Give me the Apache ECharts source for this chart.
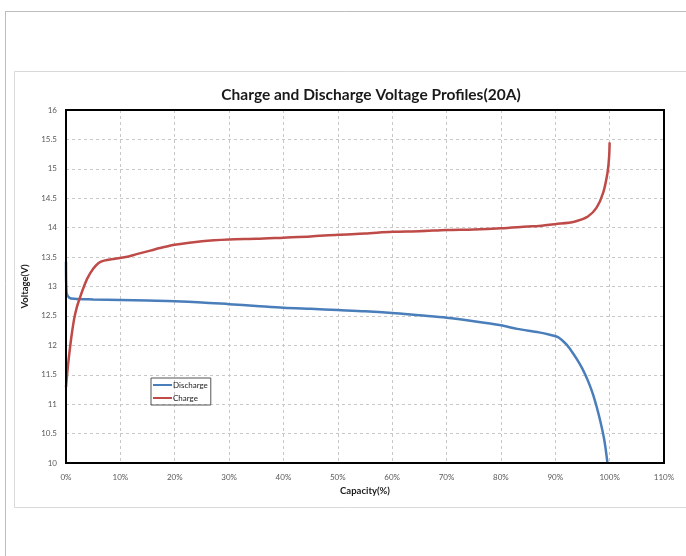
<!DOCTYPE html>
<html>
<head>
<meta charset="utf-8">
<script src="https://cdn.jsdelivr.net/npm/echarts@6/dist/echarts.min.js"></script>
<style>
  html, body { margin: 0; padding: 0; background: #fff; }
  #chart { width: 686px; height: 556px; }
</style>
</head>
<body>
<div id="chart"></div>
<script>
// capacity (%) , voltage (V) pairs
const dischargeCap = [0, 0.1, 0.6, 1.5, 5, 10, 15, 20, 25, 30, 35, 40, 45, 50, 55, 60, 65, 70, 75, 80, 83, 87, 89, 90.5, 92, 93, 94, 95, 96, 97, 98, 99, 99.6];
const dischargeV = [13.42, 12.9, 12.81, 12.79, 12.78, 12.77, 12.76, 12.75, 12.73, 12.7, 12.67, 12.64, 12.62, 12.6, 12.58, 12.55, 12.51, 12.47, 12.41, 12.34, 12.28, 12.22, 12.18, 12.14, 12.02, 11.9, 11.76, 11.6, 11.4, 11.15, 10.82, 10.4, 10.0];

const chargeCap = [0, 0.3, 0.6, 1, 1.5, 2, 2.6, 3.3, 4, 5, 6, 7, 9, 11, 13, 15.5, 18, 20, 25, 30, 35, 40, 45, 50, 55, 60, 65, 70, 75, 80, 85, 87, 90, 93.5, 96, 97.6, 98.8, 99.6, 99.9, 100];
const chargeV = [11.29, 11.6, 11.85, 12.15, 12.45, 12.65, 12.82, 13.0, 13.15, 13.3, 13.4, 13.44, 13.47, 13.5, 13.55, 13.61, 13.67, 13.71, 13.77, 13.8, 13.81, 13.83, 13.85, 13.88, 13.9, 13.93, 13.94, 13.96, 13.97, 13.99, 14.02, 14.03, 14.06, 14.1, 14.19, 14.34, 14.59, 14.93, 15.2, 15.45];

const font = 'Lato, "Open Sans", sans-serif';

function pairs(xs, ys) {
  return xs.map((x, i) => [x, ys[i]]);
}

const chart = echarts.init(document.getElementById('chart'), null, { renderer: 'canvas' });

const option = {
  backgroundColor: '#ffffff',
  animation: false,
  title: {
    text: 'Charge and Discharge Voltage Profiles(20A)',
    left: 366,
    top: 82,
    textAlign: 'center',
    textStyle: { fontFamily: font, fontSize: 15.5, fontWeight: 'bold', color: '#1a1a1a' }
  },
  graphic: [
    // outer frame
    { type: 'line', shape: { x1: 5, y1: 11.5, x2: 686, y2: 11.5 }, style: { stroke: '#bdbdbd', lineWidth: 1 }, silent: true },
    { type: 'line', shape: { x1: 5.5, y1: 11, x2: 5.5, y2: 556 }, style: { stroke: '#bdbdbd', lineWidth: 1 }, silent: true },
    // chart box
    { type: 'rect', shape: { x: 14.5, y: 71.5, width: 680, height: 436 }, style: { fill: 'none', stroke: '#d9d9d9', lineWidth: 1 }, silent: true },
    // plot frame drawn over the dashed grid lines
    { type: 'rect', z: 100, shape: { x: 66, y: 110, width: 598, height: 353 }, style: { fill: 'none', stroke: '#000', lineWidth: 2 }, silent: true }
  ],
  legend: {
    orient: 'vertical',
    left: 151,
    top: 378,
    data: ['Discharge', 'Charge'],
    icon: 'rect',
    itemWidth: 19,
    itemHeight: 2,
    itemGap: 5,
    padding: [3, 3, 3, 2],
    borderColor: '#555',
    borderWidth: 1,
    textStyle: { fontFamily: font, fontSize: 8, color: '#222', padding: [0, 0, 0, -4] }
  },
  grid: {
    left: 66,
    right: 22,
    top: 110,
    bottom: 93
  },
  xAxis: {
    type: 'value',
    min: 0,
    max: 110,
    interval: 10,
    name: 'Capacity(%)',
    nameLocation: 'middle',
    nameGap: 22,
    nameTextStyle: { fontFamily: font, fontSize: 9.5, fontWeight: 'bold', color: '#1a1a1a' },
    axisLine: { show: false },
    axisTick: { show: false },
    axisLabel: { formatter: '{value}%', fontFamily: font, fontSize: 8, color: '#595959', margin: 10 },
    splitLine: { show: true, lineStyle: { color: '#c8c8c8', type: [3, 3], width: 1 } }
  },
  yAxis: {
    type: 'value',
    min: 10,
    max: 16,
    interval: 0.5,
    name: 'Voltage(V)',
    nameLocation: 'middle',
    nameGap: 30,
    nameRotate: 90,
    nameTextStyle: { fontFamily: font, fontSize: 9.5, fontWeight: 'bold', color: '#1a1a1a' },
    axisLine: { show: false },
    axisTick: { show: false },
    axisLabel: { fontFamily: font, fontSize: 8, color: '#595959', margin: 9 },
    splitLine: { show: true, lineStyle: { color: '#c8c8c8', type: [3, 3], width: 1 } }
  },
  series: [
    {
      name: 'Discharge',
      type: 'line',
      data: pairs(dischargeCap, dischargeV),
      smooth: 0.3,
      showSymbol: false,
      symbol: 'none',
      lineStyle: { color: '#4a7ebb', width: 2.5 },
      itemStyle: { color: '#4a7ebb' }
    },
    {
      name: 'Charge',
      type: 'line',
      data: pairs(chargeCap, chargeV),
      smooth: 0.3,
      showSymbol: false,
      symbol: 'none',
      lineStyle: { color: '#be4b48', width: 2.5 },
      itemStyle: { color: '#be4b48' }
    }
  ]
};

chart.setOption(option);
</script>
</body>
</html>
